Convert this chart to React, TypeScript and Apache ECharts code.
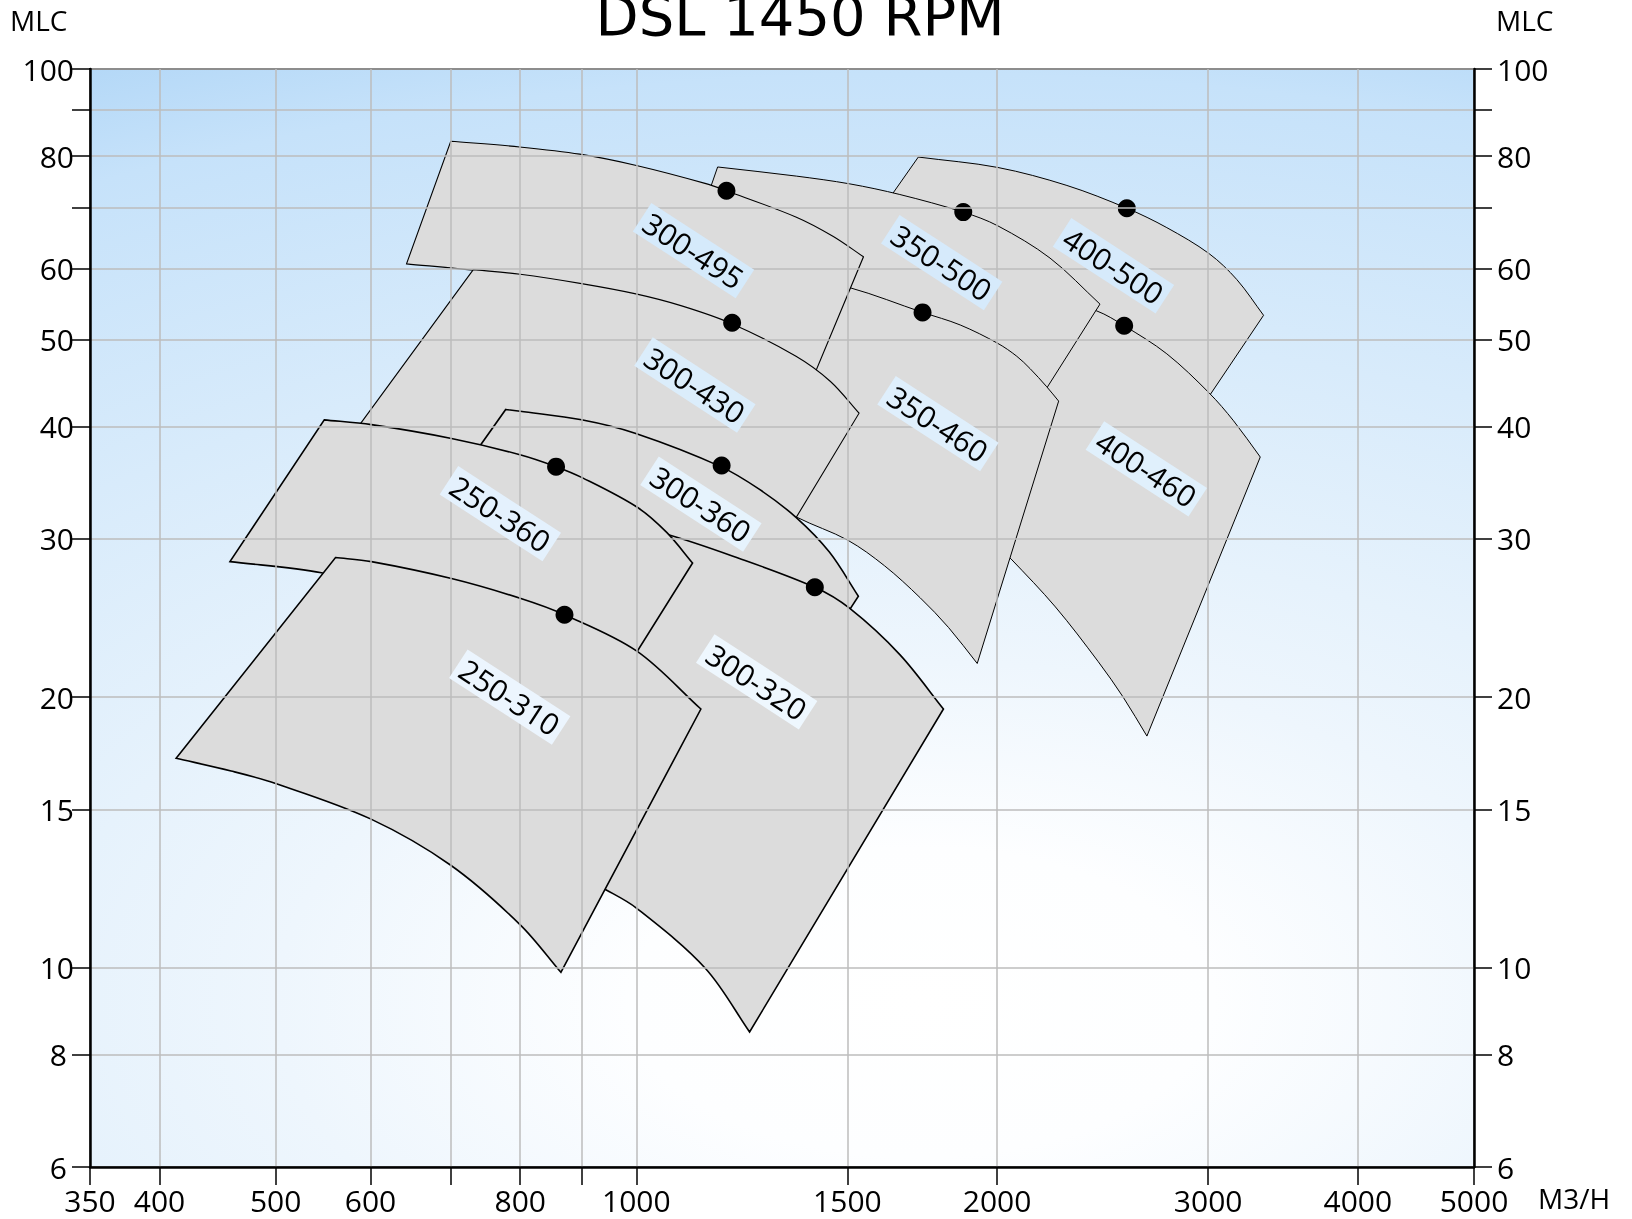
import React, { useEffect, useRef } from "react";
import * as echarts from "echarts";

// Axis ticks / labels
const X_TICKS = [350, 400, 500, 600, 700, 800, 900, 1000, 1500, 2000, 3000, 4000, 5000];
const X_LABELS = [350, 400, 500, 600, 800, 1000, 1500, 2000, 3000, 4000, 5000];
const Y_TICKS = [6, 8, 10, 15, 20, 30, 40, 50, 60, 70, 80, 90, 100];
const Y_LABELS = [6, 8, 10, 15, 20, 30, 40, 50, 60, 80, 100];

// Pump models (drawing order: back to front)
const MODELS = ["400-500", "400-460", "350-500", "350-460", "300-495", "300-430", "300-360", "300-320", "250-360", "250-310"];

// Operating field outlines (flow m3/h, head mlc): upper curve left->right, then lower curve right->left
const q400_500 = [1719, 2003, 2287, 2566, 2771, 3006, 3170, 3337, 2890, 2453, 2175, 1781, 1548];
const h400_500 = [79.8, 77.7, 74.2, 70.0, 66.6, 62.3, 58.3, 53.2, 40.0, 47.5, 53.6, 62.0, 65.4];

const q400_460 = [2264, 2422, 2553, 2771, 3006, 3150, 3316, 2667, 2548, 2429, 2237, 2054, 2008];
const h400_460 = [55.0, 53.8, 51.8, 48.2, 43.6, 40.6, 37.0, 18.1, 20.0, 21.9, 25.2, 28.5, 29.3];

const q350_500 = [1169, 1360, 1507, 1659, 1874, 2003, 2214, 2437, 2124, 1781, 1458, 1242, 1080];
const h350_500 = [77.8, 76.0, 74.5, 72.5, 69.3, 66.9, 61.6, 54.75, 41.0, 47.9, 51.9, 55.0, 57.3];

const q350_460 = [1346, 1507, 1733, 1863, 2003, 2077, 2131, 2200, 2251, 1925, 1822, 1725, 1611, 1501, 1362, 1242];
const h350_460 = [58.8, 57.1, 53.6, 51.9, 49.5, 47.9, 46.4, 44.3, 42.7, 21.8, 23.9, 25.8, 28.0, 29.9, 31.7, 34.05];

const q300_495 = [700, 799, 897, 1000, 1141, 1189, 1360, 1460, 1547, 1378, 1242, 1080, 902, 800, 731, 643];
const h300_495 = [83.1, 81.9, 80.4, 78.1, 74.6, 73.2, 68.4, 65.1, 61.8, 42.7, 47.5, 52.4, 56.7, 58.6, 59.7, 60.7];

const q300_430 = [731, 800, 900, 999, 1091, 1200, 1359, 1452, 1534, 1338, 977, 724, 569];
const h300_430 = [59.8, 59.1, 57.7, 56.2, 54.5, 52.1, 47.9, 44.9, 41.4, 30.6, 34.05, 36.4, 37.9];

const q300_360 = [778, 800, 900, 999, 1176, 1267, 1359, 1449, 1532, 1458, 1193, 977, 708];
const h300_360 = [41.8, 41.6, 40.7, 39.3, 36.1, 34.05, 31.7, 29.0, 25.9, 23.4, 26.4, 29.0, 35.0];

const q300_320 = [977, 1056, 1204, 1409, 1507, 1659, 1804, 1243, 1142, 1000, 943, 902];
const h300_320 = [31.0, 30.4, 28.7, 26.5, 25.1, 22.3, 19.4, 8.48, 9.98, 11.65, 12.21, 12.59];

const q250_360 = [549, 601, 701, 801, 857, 901, 1001, 1060, 1114, 959, 724, 592, 546, 458];
const h250_360 = [40.7, 40.2, 38.8, 37.2, 36.1, 35.1, 32.55, 30.5, 28.2, 20.5, 24.1, 26.4, 27.5, 28.3];

const q250_310 = [561, 601, 701, 801, 871, 1001, 1132, 865, 800, 700, 600, 500, 459, 413];
const h250_310 = [28.6, 28.3, 27.1, 25.75, 24.7, 22.5, 19.4, 9.88, 11.16, 13.0, 14.64, 16.03, 16.55, 17.1];

// Number of points on the upper curve of each field
const TOP_N = [8, 7, 8, 9, 9, 9, 9, 7, 9, 7];

// Best efficiency points
const BEP_Q = [2566, 2553, 1874, 1733, 1189, 1202, 1178, 1409, 857, 871];
const BEP_H = [70.0, 51.8, 69.3, 53.6, 73.2, 52.2, 36.2, 26.5, 36.1, 24.7];

// Label anchor points
const LABEL_Q = [2501, 2664, 1798, 1785, 1116, 1119, 1132, 1260, 770, 784];
const LABEL_H = [60.4, 35.9, 60.9, 40.3, 62.8, 44.5, 32.8, 20.8, 32.0, 20.0];

const SHAPE_Q = [q400_500, q400_460, q350_500, q350_460, q300_495, q300_430, q300_360, q300_320, q250_360, q250_310];
const SHAPE_H = [h400_500, h400_460, h350_500, h350_460, h300_495, h300_430, h300_360, h300_320, h250_360, h250_310];

// Styles
const LINE_W = [1, 1, 1, 1, 1.1, 1.1, 1.6, 1.6, 1.6, 1.6];
const LABEL_BG = ["#d6eafb", "#e0f0fc", "#d6eafb", "#dfeffc", "#d5eafb", "#dbedfb", "#e6f3fd", "#eef7fe", "#e4f1fd", "#ecf5fe"];

const GRID = { left: 90, top: 69, width: 1384, height: 1098 };
const STRETCH = 1.89;
const LABEL_FONT = "'Open Sans', 'Noto Sans', sans-serif";

// Smooth chord-length Catmull-Rom path through pixel points from index a to b
function curveTo(pts: number[][], a: number, b: number): string {
  const len = (i: number) => Math.max(1e-6, Math.hypot(pts[i + 1][0] - pts[i][0], pts[i + 1][1] - pts[i][1]));
  const tangent = (i: number) => {
    if (i === a) {
      const h = len(a);
      return [(pts[a + 1][0] - pts[a][0]) / h, (pts[a + 1][1] - pts[a][1]) / h];
    }
    if (i === b) {
      const h = len(b - 1);
      return [(pts[b][0] - pts[b - 1][0]) / h, (pts[b][1] - pts[b - 1][1]) / h];
    }
    const h = len(i - 1) + len(i);
    return [(pts[i + 1][0] - pts[i - 1][0]) / h, (pts[i + 1][1] - pts[i - 1][1]) / h];
  };
  let d = "";
  for (let i = a; i < b; i++) {
    const h = len(i);
    const m1 = tangent(i);
    const m2 = tangent(i + 1);
    const c1x = pts[i][0] + (m1[0] * h) / 3;
    const c1y = pts[i][1] + (m1[1] * h) / 3;
    const c2x = pts[i + 1][0] - (m2[0] * h) / 3;
    const c2y = pts[i + 1][1] - (m2[1] * h) / 3;
    d += ` C ${c1x.toFixed(2)} ${c1y.toFixed(2)} ${c2x.toFixed(2)} ${c2y.toFixed(2)} ${pts[i + 1][0].toFixed(2)} ${pts[i + 1][1].toFixed(2)}`;
  }
  return d;
}

function buildOption() {
  const axisLabelBase = { color: "#000", fontSize: 30, fontFamily: LABEL_FONT };
  const localW = GRID.width / STRETCH;
  return {
    animation: false,
    graphic: [
      {
        type: "rect",
        z: -10,
        silent: true,
        x: GRID.left,
        y: GRID.top,
        scaleX: STRETCH,
        shape: { x: 0, y: 0, width: localW, height: GRID.height },
        style: {
          fill: new echarts.graphic.RadialGradient(
            0.6 * localW,
            0.85 * GRID.height,
            1032,
            [
              { offset: 0, color: "#ffffff" },
              { offset: 0.15, color: "#fdfeff" },
              { offset: 0.33, color: "#eef6fd" },
              { offset: 0.45, color: "#e6f2fc" },
              { offset: 0.65, color: "#d8ebfb" },
              { offset: 0.9, color: "#c6e2fa" },
              { offset: 1, color: "#b4d8f7" },
            ],
            true
          ),
        },
      },
      {
        type: "text",
        x: 800,
        y: 15,
        style: { text: "DSL 1450 RPM", fontSize: 56, fontFamily: "'DejaVu Sans', sans-serif", fill: "#000", align: "center", verticalAlign: "middle" },
      },
      {
        type: "text",
        x: 10,
        y: 20,
        style: { text: "MLC", fontSize: 28, fontFamily: LABEL_FONT, fill: "#000", align: "left", verticalAlign: "middle" },
      },
      {
        type: "text",
        x: 1496,
        y: 20,
        style: { text: "MLC", fontSize: 28, fontFamily: LABEL_FONT, fill: "#000", align: "left", verticalAlign: "middle" },
      },
      {
        type: "text",
        x: 1538,
        y: 1198,
        style: { text: "M3/H", fontSize: 28, fontFamily: LABEL_FONT, fill: "#000", align: "left", verticalAlign: "middle" },
      },
    ],
    grid: {
      left: GRID.left,
      top: GRID.top,
      width: GRID.width,
      height: GRID.height,
      show: true,
      backgroundColor: "transparent",
      borderColor: "#000",
      borderWidth: 2,
      containLabel: false,
      outerBoundsMode: "none",
    },
    xAxis: {
      type: "log",
      logBase: 10,
      min: 350,
      max: 5000,
      z: 2,
      axisLine: { show: true, lineStyle: { color: "#000", width: 2.5 } },
      axisTick: { show: true, customValues: X_TICKS, length: 18, lineStyle: { color: "#000", width: 1.5 } },
      axisLabel: { ...axisLabelBase, customValues: X_LABELS, margin: 18, formatter: (v: number) => String(v) },
      splitLine: { show: true, lineStyle: { color: "#bdbdbd", width: 1.5 } },
      minorTick: { show: false },
    },
    yAxis: [
      {
        type: "log",
        logBase: 10,
        min: 6,
        max: 100,
        z: 2,
        axisLine: { show: true, lineStyle: { color: "#000", width: 2.5 } },
        axisTick: { show: true, customValues: Y_TICKS, length: 18, lineStyle: { color: "#000", width: 1.5 } },
        axisLabel: {
          ...axisLabelBase,
          customValues: Y_LABELS,
          margin: 16,
          formatter: (v: number) => (v < 10 ? `{s|${v}}` : String(v)),
          rich: { s: { ...axisLabelBase, padding: [0, 7, 0, 0] } },
        },
        splitLine: { show: true, lineStyle: { color: "#bdbdbd", width: 1.5 } },
      },
      {
        type: "log",
        logBase: 10,
        min: 6,
        max: 100,
        position: "right",
        z: 2,
        axisLine: { show: true, lineStyle: { color: "#000", width: 2.5 } },
        axisTick: { show: true, customValues: Y_TICKS, length: 18, lineStyle: { color: "#000", width: 1.5 } },
        axisLabel: { ...axisLabelBase, customValues: Y_LABELS, margin: 23, formatter: (v: number) => String(v) },
        splitLine: { show: false },
      },
    ],
    series: [
      {
        type: "custom",
        name: "fields",
        z: 1,
        xAxisIndex: 0,
        yAxisIndex: 0,
        silent: true,
        data: MODELS.map((_, i) => [SHAPE_Q[i][0], SHAPE_H[i][0]]),
        encode: { x: 0, y: 1 },
        renderItem: (params: any, api: any) => {
          const i = params.dataIndex;
          const qs = SHAPE_Q[i];
          const hs = SHAPE_H[i];
          const pts = qs.map((q, j) => api.coord([q, hs[j]]));
          const k = TOP_N[i] - 1;
          const n = pts.length;
          let d = `M ${pts[0][0].toFixed(2)} ${pts[0][1].toFixed(2)}`;
          d += curveTo(pts, 0, k);
          d += ` L ${pts[k + 1][0].toFixed(2)} ${pts[k + 1][1].toFixed(2)}`;
          d += curveTo(pts, k + 1, n - 1);
          d += " Z";
          return {
            type: "path",
            shape: { pathData: d },
            style: { fill: "#dcdcdc", stroke: "#000", lineWidth: LINE_W[i], lineJoin: "miter" },
          };
        },
      },
      {
        type: "scatter",
        name: "bep",
        z: 1,
        xAxisIndex: 0,
        yAxisIndex: 0,
        silent: true,
        symbol: "circle",
        symbolSize: 18,
        itemStyle: { color: "#000", opacity: 1 },
        data: BEP_Q.map((q, i) => [q, BEP_H[i]]),
      },
      {
        type: "custom",
        name: "labels",
        z: 3,
        xAxisIndex: 0,
        yAxisIndex: 0,
        silent: true,
        data: MODELS.map((_, i) => [LABEL_Q[i], LABEL_H[i]]),
        encode: { x: 0, y: 1 },
        renderItem: (params: any, api: any) => {
          const i = params.dataIndex;
          const p = api.coord([LABEL_Q[i], LABEL_H[i]]);
          return {
            type: "text",
            x: p[0],
            y: p[1],
            rotation: (-33 * Math.PI) / 180,
            style: {
              text: MODELS[i],
              fontSize: 30,
              fontFamily: LABEL_FONT,
              fill: "#000",
              backgroundColor: LABEL_BG[i],
              padding: [2, 5],
              align: "center",
              verticalAlign: "middle",
            },
          };
        },
      },
    ],
  };
}

export default function App() {
  const ref = useRef<HTMLDivElement>(null);
  useEffect(() => {
    if (!ref.current) return;
    const chart = echarts.init(ref.current, null, { renderer: "svg" });
    chart.setOption(buildOption() as any);
    return () => chart.dispose();
  }, []);
  return <div ref={ref} style={{ position: "fixed", left: 0, top: 0, width: 1632, height: 1219 }} />;
}
